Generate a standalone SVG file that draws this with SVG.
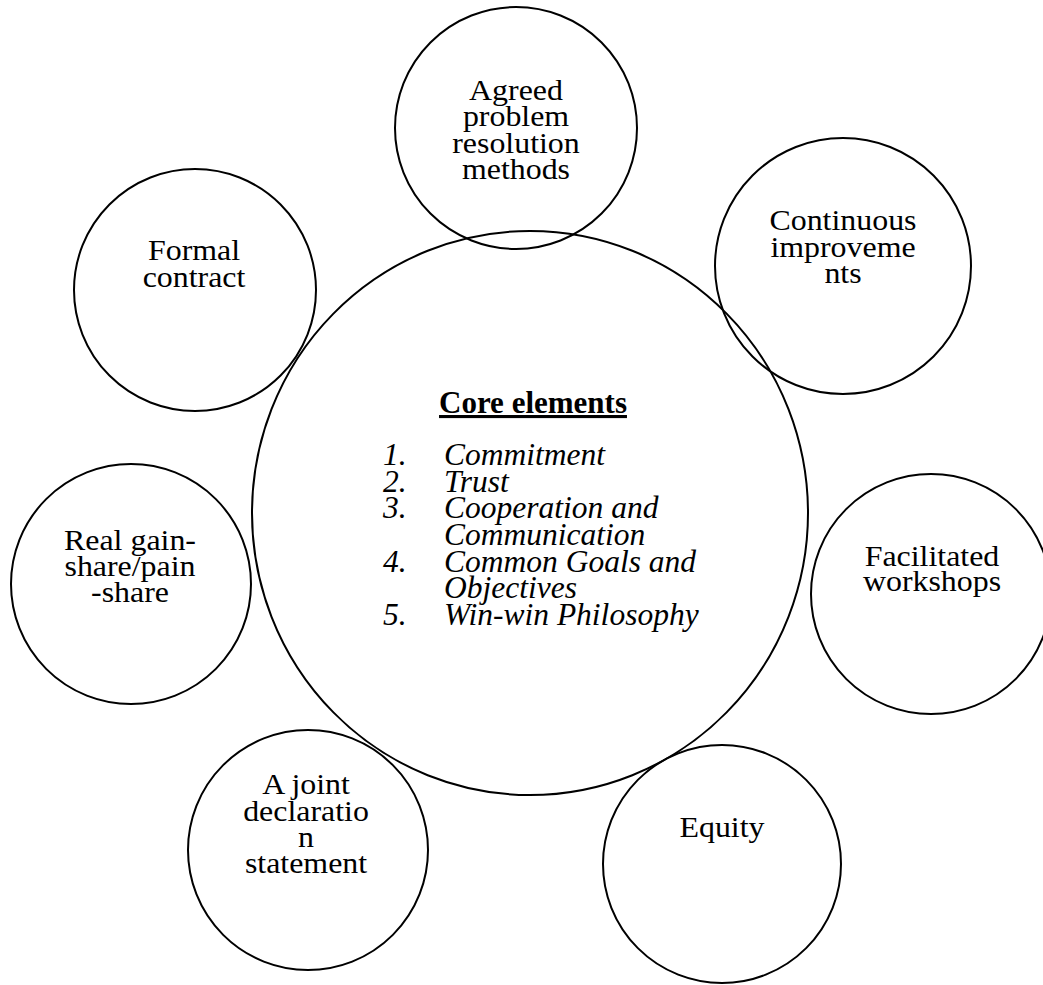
<svg xmlns="http://www.w3.org/2000/svg" width="1043" height="985" viewBox="0 0 1043 985">
<style>
.c{fill:none;stroke:#000;stroke-width:2}
text{font-family:'Liberation Serif','Times New Roman',Tinos,serif;font-size:29px;fill:#000}
.t{text-anchor:middle}
.i{font-style:italic;font-size:31.5px}
.b{font-weight:bold;font-size:31px;text-anchor:middle;text-decoration:underline}
</style>
<rect width="1043" height="985" fill="#fff"/>
<g id="connectors"></g>
<g id="core">
<ellipse class="c" cx="530" cy="513" rx="278" ry="282"/>
<text class="b" x="533" y="413">Core elements</text>
<text class="i" x="383" y="465">1.</text><text class="i" x="444" y="465">Commitment</text>
<text class="i" x="383" y="492">2.</text><text class="i" x="444" y="492">Trust</text>
<text class="i" x="383" y="518">3.</text><text class="i" x="444" y="518">Cooperation and</text>
<text class="i" x="444" y="545">Communication</text>
<text class="i" x="383" y="572">4.</text><text class="i" x="444" y="572">Common Goals and</text>
<text class="i" x="444" y="598">Objectives</text>
<text class="i" x="383" y="625">5.</text><text class="i" x="444" y="625">Win-win Philosophy</text>
</g>
<g id="agreed">
<circle class="c" cx="516" cy="128" r="121"/>
<g transform="translate(516 0) scale(1.1 1)">
<text class="t" x="0" y="100">Agreed</text>
<text class="t" x="0" y="126">problem</text>
<text class="t" x="0" y="153">resolution</text>
<text class="t" x="0" y="179">methods</text>
</g>
</g>
<g id="formal">
<circle class="c" cx="195" cy="290" r="121"/>
<g transform="translate(194 0) scale(1.1 1)">
<text class="t" x="0" y="260">Formal</text>
<text class="t" x="0" y="287">contract</text>
</g>
</g>
<g id="continuous">
<circle class="c" cx="843" cy="266" r="128"/>
<g transform="translate(843 0) scale(1.1 1)">
<text class="t" x="0" y="230">Continuous</text>
<text class="t" x="0" y="257">improveme</text>
<text class="t" x="0" y="283">nts</text>
</g>
</g>
<g id="gainshare">
<circle class="c" cx="131" cy="584" r="120"/>
<g transform="translate(130 0) scale(1.1 1)">
<text class="t" x="0" y="550">Real gain-</text>
<text class="t" x="0" y="576">share/pain</text>
<text class="t" x="0" y="602">-share</text>
</g>
</g>
<g id="workshops">
<circle class="c" cx="931" cy="594" r="120"/>
<g transform="translate(932 0) scale(1.1 1)">
<text class="t" x="0" y="566">Facilitated</text>
<text class="t" x="0" y="591">workshops</text>
</g>
</g>
<g id="declaration">
<circle class="c" cx="308" cy="850" r="120"/>
<g transform="translate(306 0) scale(1.1 1)">
<text class="t" x="0" y="794">A joint</text>
<text class="t" x="0" y="821">declaratio</text>
<text class="t" x="0" y="847">n</text>
<text class="t" x="0" y="873">statement</text>
</g>
</g>
<g id="equity">
<circle class="c" cx="722" cy="864" r="119"/>
<g transform="translate(722 0) scale(1.1 1)">
<text class="t" x="0" y="837">Equity</text>
</g>
</g>
</svg>
